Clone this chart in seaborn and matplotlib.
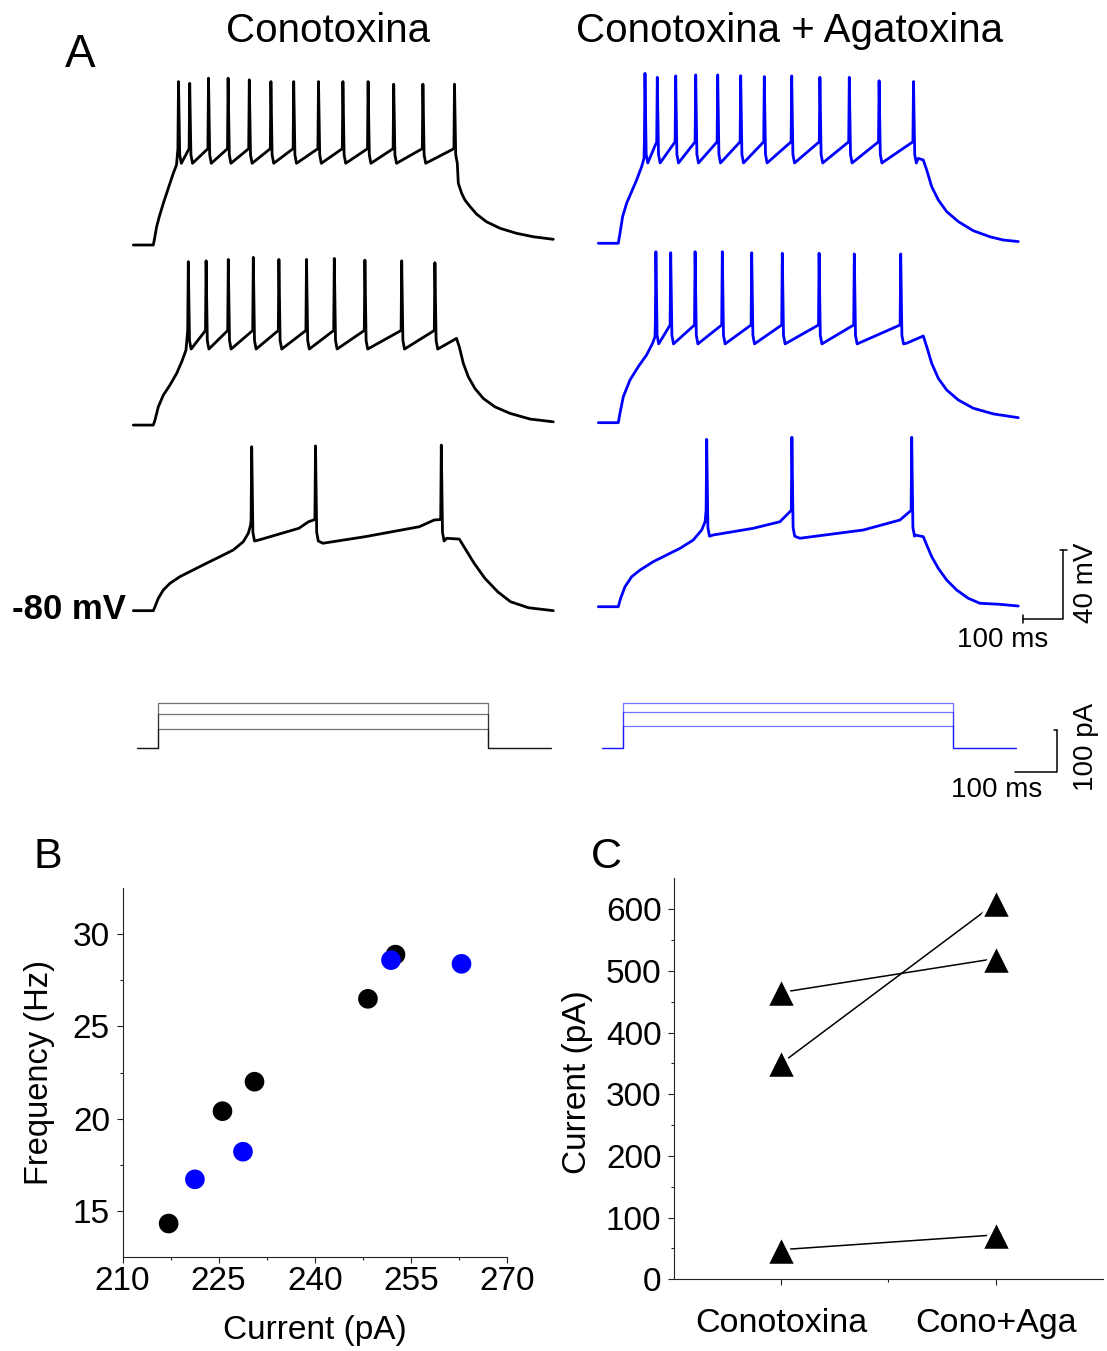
import numpy as np
import pandas as pd
import matplotlib
matplotlib.use("Agg")
import matplotlib.pyplot as plt
import seaborn as sns

# ---------------- panel A: membrane potential (ms from step onset, mV) ----------------
REST_MV = -80

# Conotoxina column, traces top -> bottom
CONO_SPIKE_T = [
    [63, 91, 138, 187, 240, 294, 351, 413, 474, 537, 601, 674, 753],
    [87.5, 132, 187.5, 250, 314, 383, 452.5, 529, 621, 704],
    [246, 405.5, 720],
]
CONO_SPIKE_MV = [
    [15, 14, 17, 17, 16, 15, 15, 15, 15, 15, 13.5, 13.5, 13.5],
    [15, 15.5, 16.3, 17.5, 16.3, 16.3, 16.9, 15.9, 15.5, 14.4],
    [15.3, 15.8, 16.3],
]
CONO_TROUGH_MV = [-32.5, -35.8, -39.5]
CONO_THRESH_MV = [-24, -25, -27]
CONO_RISE_T = [[2.5, 8.3, 15, 25, 37.5, 50, 58],
               [4.2, 12.5, 25, 41.7, 58.3, 71, 81.7],
               [4.2, 12.5, 25, 41.7, 66.7, 100, 133.3, 166.7, 200, 225, 237.5, 243.3]]
CONO_RISE_MV = [[-77.1, -69.4, -63.5, -55.8, -47, -38.3, -33.5],
                [-77.1, -69.4, -62.6, -56.7, -50, -43.2, -36.4],
                [-77.7, -72.8, -68, -64.1, -60.2, -56.3, -52.4, -48.6, -44.7, -39.9, -35, -30.2]]
CONO_RAMP_T = [[], [], [264, 364, 388, 424, 529, 665, 702]]
CONO_RAMP_MV = [[], [], [-38.9, -32.1, -28.3, -40.8, -37, -31.2, -27.3]]
CONO_TAIL_T = [[762.5, 771, 779, 792, 808, 833, 867, 908, 950, 1000],
               [721, 758, 765, 775, 787.5, 804, 825, 854, 892, 942, 1000],
               [733.5, 765, 779, 802, 829, 861, 893, 938, 1000]]
CONO_TAIL_MV = [[-44.1, -50, -53.8, -57.7, -62, -66.5, -70.3, -73.2, -75.2, -76.7],
                [-34.5, -29.6, -34.5, -44.1, -51.9, -58.7, -64.5, -69.4, -73.2, -76.5, -78.1],
                [-37.9, -38.4, -43.7, -52.4, -61.2, -69, -74.8, -78.3, -80]]

# Conotoxina + Agatoxina column
AGA_SPIKE_T = [
    [66.7, 97.5, 143.5, 193.5, 248.5, 306, 365, 433.5, 504, 577.5, 652, 738],
    [94, 131, 192, 260, 333.5, 410, 502, 590, 706],
    [221, 434, 733.5],
]
AGA_SPIKE_MV = [
    [18.8, 16.5, 17.3, 17.9, 17.9, 17.4, 16.9, 17.3, 16.5, 16.5, 14.5, 14],
    [19.4, 18.8, 19.4, 19.4, 18.8, 18.5, 18.5, 18.1, 18.1],
    [17.3, 18.5, 18.5],
]
AGA_TROUGH_MV = [-33.3, -34.2, -39]
AGA_THRESH_MV = [-21, -23.2, -24]
AGA_RISE_T = [[4.2, 10.8, 20.8, 33.3, 45.8, 58.3, 64.2],
              [4.2, 12.5, 29.2, 50, 70.8, 85.8, 91.7],
              [5.8, 16.7, 33.3, 54.2, 87.5, 121, 154, 187.5, 208.5, 217]]
AGA_RISE_MV = [[-74.2, -64.5, -56.7, -50, -43.2, -35.5, -30.6],
               [-74.5, -64.9, -55.2, -47.4, -40.6, -33.8, -30],
               [-75.1, -68.4, -62.6, -58.7, -53.8, -49.9, -46.1, -41.2, -35.4, -30.6]]
AGA_RAMP_T = [[], [], [237.5, 337.5, 404, 454, 612.5, 704]]
AGA_RAMP_MV = [[], [], [-38.3, -34.4, -30.6, -40.2, -35.4, -29.6]]
AGA_TAIL_T = [[750, 762.5, 771, 783.5, 800, 821, 850, 887.5, 929, 962.5, 1000],
              [721, 762.5, 771, 783.5, 800, 821, 850, 887.5, 937.5, 1000],
              [742, 762.5, 771, 783.5, 800, 821, 846, 875, 904, 954, 1000]]
AGA_TAIL_MV = [[-30.6, -31.6, -37.4, -47.1, -54.8, -61.6, -67.4, -72.7, -76.2, -78.1, -79],
               [-33.8, -29.6, -35.8, -45.5, -54.2, -61, -66.8, -71.6, -74.9, -77.1],
               [-38.3, -39.3, -44.1, -50.9, -57.7, -64.5, -70.3, -75.1, -78, -78.6, -79.6]]

# injected current steps (pA), step length (ms)
STEP_PA_CONO = [46, 83, 109]
STEP_PA_AGA = [53, 88, 108]
STEP_MS = 792

# ---------------- panel B: frequency vs current ----------------
CURRENT_CONO = [217.2, 225.6, 230.6, 248.3, 252.6]
FREQ_CONO = [14.3, 20.4, 22.0, 26.5, 28.9]
CURRENT_AGA = [221.3, 228.8, 251.9, 262.9]
FREQ_AGA = [16.7, 18.2, 28.6, 28.4]

# ---------------- panel C: paired currents ----------------
C_GROUPS = ["Conotoxina", "Cono+Aga"]
RHEO_CONO = [465, 350, 48]
RHEO_AGA = [520, 610, 72]

W, H = 1107, 1351
BLUE = "#0000ff"


def fx(x):
    return x / W


def fy(y):
    return 1 - y / H


def build_trace(spk_t, spk_mv, trough, thresh, rise_t, rise_mv, ramp_t, ramp_mv, tail_t, tail_mv):
    pts = [(-50, REST_MV), (0, REST_MV)]
    pts += list(zip(rise_t, rise_mv))
    for t, v in zip(spk_t, spk_mv):
        # spike: onset, peak, fall and rounded after-hyperpolarisation
        pts += [(t - 1.5, thresh), (t, v), (t + 3, trough + 5), (t + 7, trough)]
    pts += list(zip(ramp_t, ramp_mv))
    pts += list(zip(tail_t, tail_mv))
    pts.sort()
    arr = np.array(pts)
    return arr[:, 0], arr[:, 1]


sns.set_style("ticks")
plt.rcParams["font.family"] = ["Liberation Sans", "DejaVu Sans"]
plt.rcParams["text.color"] = "black"
plt.rcParams["axes.labelcolor"] = "black"
plt.rcParams["xtick.color"] = "black"
plt.rcParams["ytick.color"] = "black"

fig = plt.figure(figsize=(W / 100, H / 100), dpi=100)

# ---- voltage traces ----
ax_v = fig.add_axes([0, fy(660), 1, 660 / H])
ax_v.set_xlim(-153.3 * 2.5, (W - 153.3) * 2.5)
ax_v.set_ylim(-80 - (660 - 245) / 1.72, -80 + 245 / 1.72)
ax_v.axis("off")

columns = [
    (0, [0, -104.7, -212.6], "black", CONO_SPIKE_T, CONO_SPIKE_MV, CONO_TROUGH_MV, CONO_THRESH_MV,
     CONO_RISE_T, CONO_RISE_MV, CONO_RAMP_T, CONO_RAMP_MV, CONO_TAIL_T, CONO_TAIL_MV),
    (1162.5, [1.0, -103.3, -210.3], BLUE, AGA_SPIKE_T, AGA_SPIKE_MV, AGA_TROUGH_MV, AGA_THRESH_MV,
     AGA_RISE_T, AGA_RISE_MV, AGA_RAMP_T, AGA_RAMP_MV, AGA_TAIL_T, AGA_TAIL_MV),
]
for col in columns:
    t_off, v_offs, color = col[0], col[1], col[2]
    for k in range(3):
        args = [c[k] for c in col[3:]]
        t, v = build_trace(*args)
        ax_v.plot(t + t_off, v + v_offs[k], color=color, lw=2.0, solid_joinstyle="round")

# voltage scale bar: 100 ms / 40 mV
sb_t, sb_v = 2175, -297.6
ax_v.plot([sb_t, sb_t + 100, sb_t + 100], [sb_v, sb_v, sb_v + 40], color="black", lw=1.1)
ax_v.plot([sb_t + 100 - 9, sb_t + 100 + 9], [sb_v + 40, sb_v + 40], color="black", lw=1.1)
ax_v.plot([sb_t, sb_t], [sb_v - 2.2, sb_v + 2.2], color="black", lw=1.1)

# ---- current steps ----
ax_i = fig.add_axes([0, fy(830), 1, 170 / H])
ax_i.set_xlim(-158.3 * 2.4, (W - 158.3) * 2.4)
ax_i.set_ylim(-(830 - 748.3) / 0.417, (748.3 - 660) / 0.417)
ax_i.axis("off")
for t_off, steps, color in [(0, STEP_PA_CONO, "black"), (1116, STEP_PA_AGA, BLUE)]:
    for amp in steps:
        ax_i.plot(np.array([-50, 0, 0, STEP_MS, STEP_MS, STEP_MS + 150]) + t_off,
                  [0, 0, amp, amp, 0, 0], color=color, lw=0.9, alpha=0.55)

ci_t, ci_v = 2056, -56.1
ax_i.plot([ci_t, ci_t + 100, ci_t + 100], [ci_v, ci_v, ci_v + 100], color="black", lw=1.1)
ax_i.plot([ci_t + 100 - 6, ci_t + 100], [ci_v + 100, ci_v + 100], color="black", lw=1.1)

# ---- panel A texts ----
fig.text(fx(80), fy(55), "A", fontsize=33, ha="center", va="center")
fig.text(fx(328), fy(31), "Conotoxina", fontsize=29, ha="center", va="center")
fig.text(fx(790), fy(31), "Conotoxina + Agatoxina", fontsize=29, ha="center", va="center")
fig.text(fx(126), fy(609), "-80 mV", fontsize=25, fontweight="bold", ha="right", va="center")
fig.text(fx(1003), fy(640), "100 ms", fontsize=20, ha="center", va="center")
fig.text(fx(1086), fy(583), "40 mV", fontsize=20, ha="center", va="center", rotation=90)
fig.text(fx(997), fy(790), "100 ms", fontsize=20, ha="center", va="center")
fig.text(fx(1086), fy(747), "100 pA", fontsize=20, ha="center", va="center", rotation=90)

# ---------------- panel B ----------------
ax_b = fig.add_axes([fx(122.5), fy(1256.7), 384.5 / W, 368.4 / H])
df_b = pd.DataFrame({
    "current": CURRENT_CONO + CURRENT_AGA,
    "freq": FREQ_CONO + FREQ_AGA,
    "cond": ["Conotoxina"] * len(CURRENT_CONO) + ["Cono+Aga"] * len(CURRENT_AGA),
})
sns.scatterplot(data=df_b, x="current", y="freq", hue="cond",
                palette={"Conotoxina": "black", "Cono+Aga": BLUE},
                s=200, linewidth=0, legend=False, ax=ax_b)
ax_b.set_xlim(210, 270)
ax_b.set_ylim(12.5, 32.5)
ax_b.set_xticks([210, 225, 240, 255, 270])
ax_b.set_xticks([217.5, 232.5, 247.5, 262.5], minor=True)
ax_b.set_yticks([15, 20, 25, 30])
ax_b.set_yticks([17.5, 22.5, 27.5], minor=True)
ax_b.set_xlabel("Current (pA)", fontsize=24)
ax_b.set_ylabel("Frequency (Hz)", fontsize=23.5)
ax_b.xaxis.set_label_coords(0.5, (1256.7 - 1331) / 368.4)
ax_b.xaxis.label.set_va("center")
ax_b.yaxis.set_label_coords((40 - 122.5) / 384.5, 0.5)
ax_b.yaxis.label.set_va("center")
ax_b.tick_params(axis="x", which="major", labelsize=24, pad=3)
ax_b.tick_params(axis="y", which="major", labelsize=24, pad=5)
sns.despine(ax=ax_b)
fig.text(fx(48), fy(857), "B", fontsize=31, ha="center", va="center")

# ---------------- panel C ----------------
ax_c = fig.add_axes([fx(674), fy(1279.3), 429 / W, 401 / H])
df_c = pd.DataFrame({
    "cond": [C_GROUPS[0]] * len(RHEO_CONO) + [C_GROUPS[1]] * len(RHEO_AGA),
    "current": RHEO_CONO + RHEO_AGA,
    "cell": list(range(len(RHEO_CONO))) * 2,
})
sns.lineplot(data=df_c, x="cond", y="current", units="cell", estimator=None,
             color="black", lw=1.1, marker="^", markersize=21,
             markeredgecolor="white", markeredgewidth=2.5, ax=ax_c)
ax_c.set_xlim(-0.5, 1.5)
ax_c.set_ylim(0, 650)
ax_c.set_xticks([0, 1])
ax_c.set_xticklabels(C_GROUPS)
ax_c.set_xticks([0.5], minor=True)
ax_c.set_yticks(range(0, 601, 100))
ax_c.set_yticks(range(50, 601, 100), minor=True)
ax_c.set_xlabel("")
ax_c.set_ylabel("Current (pA)", fontsize=24)
ax_c.yaxis.set_label_coords((578 - 674) / 429, 0.492)
ax_c.yaxis.label.set_va("center")
ax_c.tick_params(axis="x", which="major", labelsize=24.5, pad=17)
ax_c.tick_params(axis="y", which="major", labelsize=24, pad=5)
sns.despine(ax=ax_c)
fig.text(fx(606), fy(857), "C", fontsize=31, ha="center", va="center")

for ax in (ax_b, ax_c):
    for sp in ("left", "bottom"):
        ax.spines[sp].set_linewidth(0.8)
        ax.spines[sp].set_color("#222222")
    ax.tick_params(which="major", direction="out", length=4, width=0.8, color="#222222")
    ax.tick_params(which="minor", direction="out", length=2.5, width=0.8, color="#222222")

fig.savefig("out.png", dpi=100)
